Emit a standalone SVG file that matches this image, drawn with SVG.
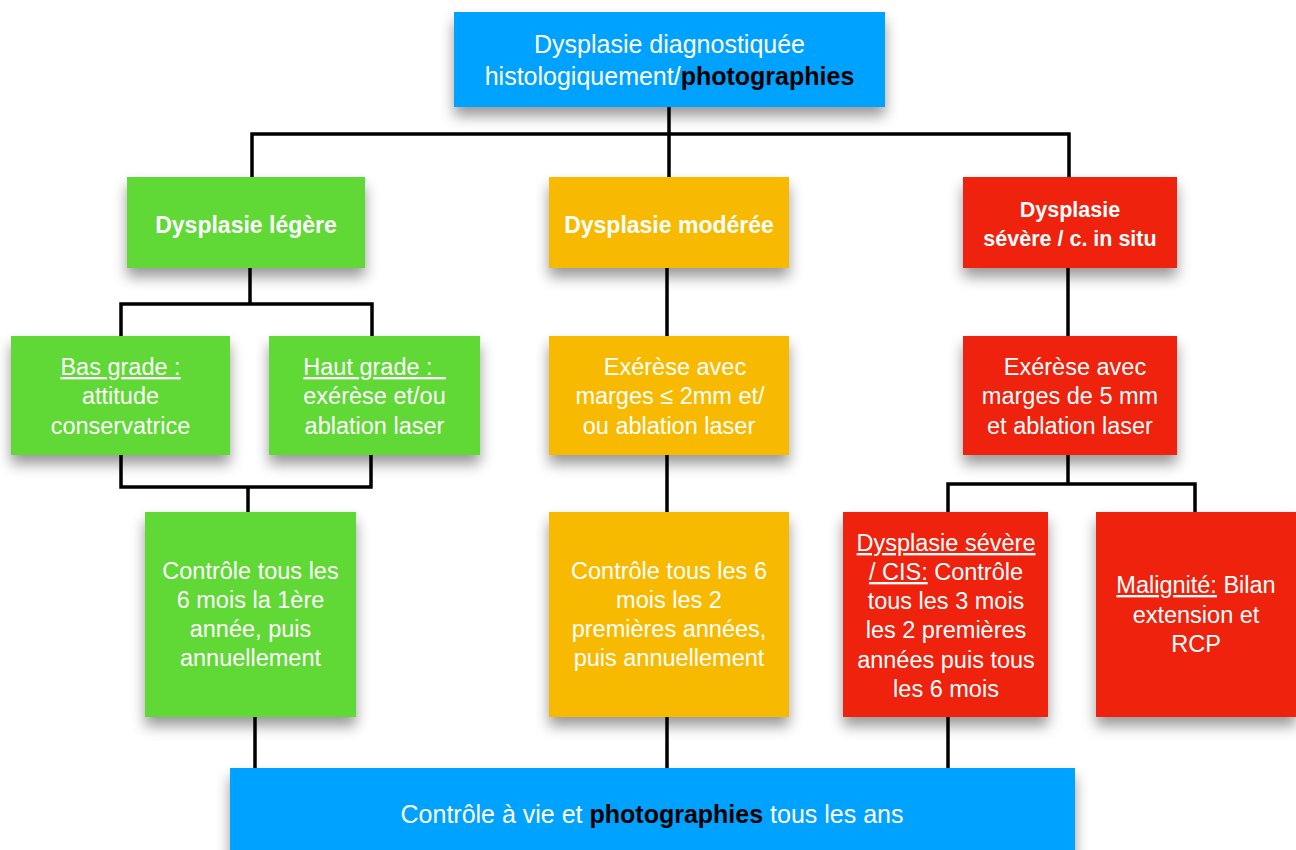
<svg xmlns="http://www.w3.org/2000/svg" width="1296" height="850" viewBox="0 0 1296 850">
<defs>
<filter id="sh" x="-20%" y="-20%" width="140%" height="160%">
<feDropShadow dx="0" dy="9" stdDeviation="7" flood-color="#000" flood-opacity="0.4"/>
</filter>
<style>
.blue{fill:#00A2FF}
.green{fill:#61D836}
.orange{fill:#F8BA00}
.red{fill:#EE220C}
.box{filter:url(#sh)}
text{font-family:"Liberation Sans",Arial,Helvetica,sans-serif;fill:#fff;text-anchor:middle}
.r{font-size:23.5px}
.b{font-size:23px;font-weight:bold}
.big{font-size:25px}
.k{fill:#000;font-weight:bold}
.u{text-decoration:underline}
.con{fill:none;stroke:#000;stroke-width:3.5;stroke-linejoin:miter;stroke-linecap:butt}
</style>
</defs>
<rect width="1296" height="850" fill="#fff"/>

<g id="n-top">
<rect class="box blue" x="454" y="12" width="431" height="95"/>
<text class="big" x="669.5" y="53">Dysplasie diagnostiquée</text>
<text class="big" x="669.5" y="85">histologiquement/<tspan class="k">photographies</tspan></text>
</g>

<g id="n-legere">
<rect class="box green" x="127" y="177" width="238" height="91"/>
<text class="b" x="246" y="233">Dysplasie légère</text>
</g>
<g id="n-moderee">
<rect class="box orange" x="549" y="177" width="240" height="91"/>
<text class="b" x="669" y="233">Dysplasie modérée</text>
</g>
<g id="n-severe">
<rect class="box red" x="963" y="177" width="214" height="91"/>
<text class="b" style="font-size:21.5px" x="1070" y="217">Dysplasie</text>
<text class="b" style="font-size:21.5px" x="1070" y="246">sévère / c. in situ</text>
</g>

<g id="n-bas">
<rect class="box green" x="11" y="336" width="219" height="119"/>
<text class="r" x="120.5" y="375"><tspan class="u">Bas grade :</tspan></text>
<text class="r" x="120.5" y="404">attitude</text>
<text class="r" x="120.5" y="434">conservatrice</text>
</g>
<g id="n-haut">
<rect class="box green" x="269" y="336" width="211" height="119"/>
<text class="r" x="374.5" y="375"><tspan class="u" xml:space="preserve">Haut grade :  </tspan></text>
<text class="r" x="374.5" y="404">exérèse et/ou</text>
<text class="r" x="374.5" y="434">ablation laser</text>
</g>
<g id="n-exerese-mod">
<rect class="box orange" x="549" y="336" width="240" height="119"/>
<text class="r" x="675" y="375">Exérèse avec</text>
<text class="r" x="670" y="404">marges ≤ 2mm et/</text>
<text class="r" x="669" y="434">ou ablation laser</text>
</g>
<g id="n-exerese-sev">
<rect class="box red" x="963" y="336" width="214" height="119"/>
<text class="r" x="1075" y="375">Exérèse avec</text>
<text class="r" x="1070" y="404">marges de 5 mm</text>
<text class="r" x="1070" y="434">et ablation laser</text>
</g>

<g id="n-ctrl-legere">
<rect class="box green" x="145" y="512" width="211" height="205"/>
<text class="r" x="250.5" y="579">Contrôle tous les</text>
<text class="r" x="250.5" y="608">6 mois la 1ère</text>
<text class="r" x="250.5" y="637">année, puis</text>
<text class="r" x="250.5" y="666">annuellement</text>
</g>
<g id="n-ctrl-mod">
<rect class="box orange" x="549" y="512" width="240" height="205"/>
<text class="r" x="669" y="579">Contrôle tous les 6</text>
<text class="r" x="669" y="608">mois les 2</text>
<text class="r" x="669" y="637">premières années,</text>
<text class="r" x="669" y="666">puis annuellement</text>
</g>
<g id="n-ctrl-sev">
<rect class="box red" x="843" y="512" width="205" height="205"/>
<text class="r" x="946" y="551"><tspan class="u">Dysplasie sévère</tspan></text>
<text class="r" x="946" y="580"><tspan class="u">/ CIS:</tspan> Contrôle</text>
<text class="r" x="946" y="609">tous les 3 mois</text>
<text class="r" x="946" y="638">les 2 premières</text>
<text class="r" x="946" y="668">années puis tous</text>
<text class="r" x="946" y="697">les 6 mois</text>
</g>
<g id="n-malignite">
<rect class="box red" x="1096" y="512" width="200" height="205"/>
<text class="r" x="1196" y="593"><tspan class="u">Malignité:</tspan> Bilan</text>
<text class="r" x="1196" y="623">extension et</text>
<text class="r" x="1196" y="652">RCP</text>
</g>

<g id="n-bottom">
<rect class="box blue" x="230" y="768" width="845" height="90"/>
<text class="big" x="652" y="823">Contrôle à vie et <tspan class="k">photographies</tspan> tous les ans</text>
</g>

<g id="connectors" class="con">
<path class="con" d="M669 107 V177"/>
<path class="con" d="M252 177 V134 H1069 V177"/>
<path class="con" d="M250 268 V304"/>
<path class="con" d="M121 336 V304 H372 V336"/>
<path class="con" d="M121 455 V487 H371 V455"/>
<path class="con" d="M248 487 V512"/>
<path class="con" d="M667 268 V336"/>
<path class="con" d="M667 455 V512"/>
<path class="con" d="M1068 268 V336"/>
<path class="con" d="M1068 455 V484"/>
<path class="con" d="M948 512 V484 H1195 V512"/>
<path class="con" d="M255 717 V768"/>
<path class="con" d="M667 717 V768"/>
<path class="con" d="M948 717 V768"/>
</g>
</svg>
